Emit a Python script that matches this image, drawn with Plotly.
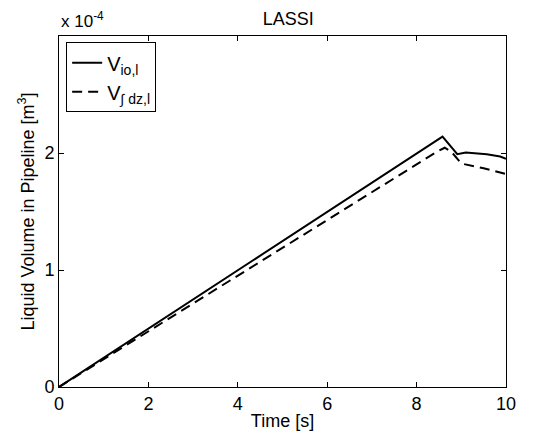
import plotly.graph_objects as go

# Data (volume in units of 1e-4 m^3)
t_io = [0, 8.58, 8.91, 9.1, 9.57, 9.87, 10]
v_io = [0, 2.14, 1.99, 2.005, 1.99, 1.97, 1.95]

t_dz = [0, 8.45, 8.63, 8.78, 9.0, 9.5, 10]
v_dz = [0, 2.01, 2.045, 2.01, 1.91, 1.87, 1.82]

x_ticks = [0, 2, 4, 6, 8, 10]
y_ticks = [0, 1, 2]

FONT = "Liberation Sans, Arial, Helvetica, sans-serif"
FS = 18

fig = go.Figure()
fig.add_trace(go.Scatter(x=t_io, y=v_io, mode="lines", name="V<sub>io,l</sub>",
                         line=dict(color="black", width=2)))
fig.add_trace(go.Scatter(x=t_dz, y=v_dz, mode="lines", name="V<sub>∫ dz,l</sub>",
                         line=dict(color="black", width=2, dash="10px,6px")))

axis_common = dict(showline=True, linecolor="black", linewidth=1, mirror="allticks",
                   ticks="inside", ticklen=5, tickcolor="black", showgrid=False,
                   zeroline=False, automargin=False,
                   tickfont=dict(size=FS, color="black", family=FONT))

fig.update_xaxes(range=[0, 10], tickvals=x_ticks,
                 title=dict(text="Time [s]", font=dict(size=FS, color="black", family=FONT), standoff=1),
                 **axis_common)
fig.update_yaxes(range=[0, 3], tickvals=y_ticks,
                 title=dict(text="Liquid Volume in Pipeline [m<sup>3</sup>]", font=dict(size=FS, color="black", family=FONT), standoff=5),
                 **axis_common)

# The page body adds an 8px margin, so the figure is shrunk by that amount.
fig.update_layout(
    width=527, height=433,
    margin=dict(l=51, r=29, t=28, b=54, autoexpand=False),
    paper_bgcolor="white", plot_bgcolor="white",
    font=dict(family=FONT, color="black", size=FS),
    title=dict(text="LASSI", x=0.532, xanchor="center", y=0.99, yanchor="top",
               font=dict(size=FS, color="black", family=FONT)),
    showlegend=True,
    legend=dict(x=0.016, y=0.982, xanchor="left", yanchor="top",
                bgcolor="white", bordercolor="black", borderwidth=1,
                font=dict(size=20, color="black", family=FONT),
                itemwidth=30, tracegroupgap=0),
    annotations=[dict(text="x 10<sup>-4</sup>", xref="paper", yref="paper",
                      x=0, y=1.0, xanchor="left", yanchor="bottom", yshift=3,
                      showarrow=False, font=dict(size=17, color="black", family=FONT))],
)

fig.write_html("out.html")
